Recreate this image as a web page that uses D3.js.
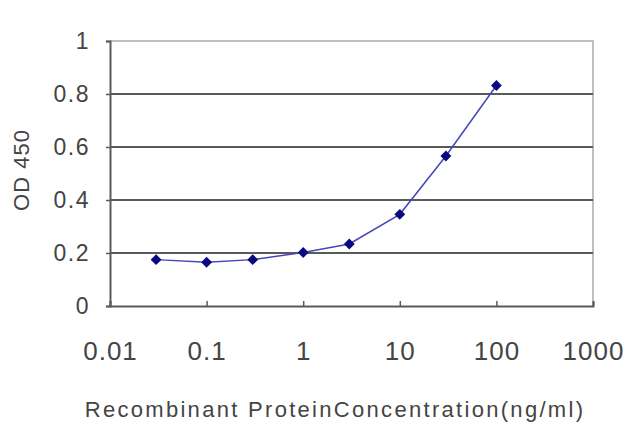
<!DOCTYPE html>
<meta charset="utf-8">
<style>
body { margin: 0; background: #fff; }
text { font-family: "Liberation Sans", Arial, sans-serif; fill: #444; }
</style>
<body>
<script src="https://d3js.org/d3.v7.min.js"></script>
<script>

// concentration (ng/ml) and OD 450 readings
var concentration = [0.03, 0.1, 0.3, 1, 3, 10, 30, 100];
var od450 = [0.175, 0.165, 0.175, 0.202, 0.234, 0.346, 0.566, 0.832];

var xTicks = [0.01, 0.1, 1, 10, 100, 1000];
var yTicks = [0, 0.2, 0.4, 0.6, 0.8, 1];

var width = 640, height = 427;
var margin = {top: 41, right: 47, bottom: 121, left: 110};

var svg = d3.select("body").append("svg")
    .attr("width", width)
    .attr("height", height);

var x = d3.scaleLog().domain([0.01, 1000]).range([margin.left, width - margin.right]);
var y = d3.scaleLinear().domain([0, 1]).range([height - margin.bottom, margin.top]);

// plot frame (top + right, lighter)
svg.append("path")
    .attr("d", "M" + x(0.01) + "," + y(1) + "H" + x(1000) + "V" + y(0))
    .attr("fill", "none")
    .attr("stroke", "#aaa")
    .attr("stroke-width", 1.5);

// gridlines
svg.append("g").selectAll("line")
    .data(yTicks.filter(function (d) { return d > 0 && d < 1; }))
    .enter().append("line")
    .attr("x1", x(0.01)).attr("x2", x(1000))
    .attr("y1", function (d) { return y(d); })
    .attr("y2", function (d) { return y(d); })
    .attr("stroke", "#5a5a5a")
    .attr("stroke-width", 2);

// Y axis
var yAxis = svg.append("g")
    .attr("transform", "translate(" + margin.left + ",0)")
    .call(d3.axisLeft(y).tickValues(yTicks).tickSize(4).tickPadding(16)
        .tickFormat(function (d) { return d === 0 || d === 1 ? d : d3.format(".1f")(d); }));
yAxis.select(".domain").attr("stroke", "#5a5a5a").attr("stroke-width", 2);
yAxis.selectAll(".tick line").attr("stroke", "#5a5a5a").attr("stroke-width", 1.5);
yAxis.selectAll("text")
    .style("font-size", "23px")
    .style("letter-spacing", "1.5px")
    .attr("fill", "#555");

// X axis
var xAxis = svg.append("g")
    .attr("transform", "translate(0," + y(0) + ")")
    .call(d3.axisBottom(x).tickValues(xTicks).tickSize(-5).tickPadding(36)
        .tickFormat(function (d) { return String(d); }));
xAxis.select(".domain").attr("stroke", "#5a5a5a").attr("stroke-width", 2);
xAxis.selectAll(".tick line").attr("stroke", "#5a5a5a").attr("stroke-width", 1.5);
xAxis.selectAll("text")
    .style("font-size", "26px")
    .style("letter-spacing", "1px")
    .attr("fill", "#555");

// data line
var points = concentration.map(function (c, i) { return {c: c, v: od450[i]}; });

svg.append("path")
    .datum(points)
    .attr("fill", "none")
    .attr("stroke", "#4646b8")
    .attr("stroke-width", 1.5)
    .attr("d", d3.line()
        .x(function (d) { return x(d.c); })
        .y(function (d) { return y(d.v); }));

svg.append("g").selectAll("path")
    .data(points)
    .enter().append("path")
    .attr("transform", function (d) { return "translate(" + x(d.c) + "," + y(d.v) + ")"; })
    .attr("d", d3.symbol().type(d3.symbolDiamond2).size(75))
    .attr("fill", "#0a0a80");

// axis titles
svg.append("text")
    .attr("transform", "translate(29,170) rotate(-90)")
    .attr("text-anchor", "middle")
    .style("font-size", "22px")
    .style("letter-spacing", "1px")
    .text("OD 450");

svg.append("text")
    .attr("x", 335)
    .attr("y", 417)
    .attr("text-anchor", "middle")
    .style("font-size", "22px")
    .style("letter-spacing", "2.3px")
    .text("Recombinant ProteinConcentration(ng/ml)");

</script>
</body>
